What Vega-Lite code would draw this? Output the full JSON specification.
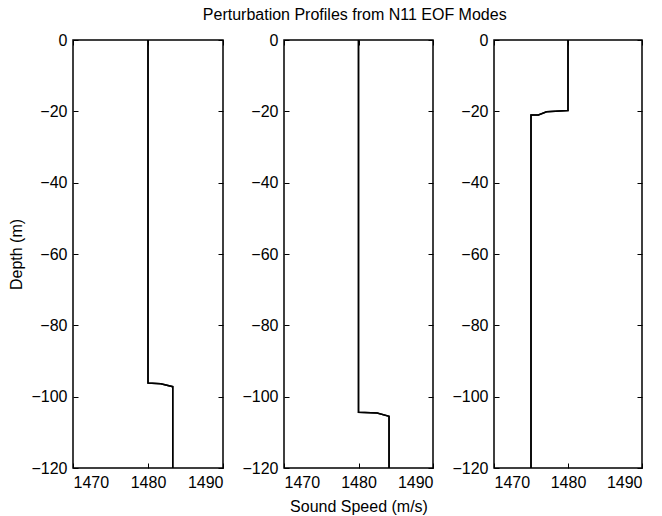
{
  "$schema": "https://vega.github.io/schema/vega-lite/v6.json",
  "background": "white",
  "padding": {"left": 8, "top": 7, "right": 5, "bottom": 2},
  "title": {"text": "Perturbation Profiles from N11 EOF Modes", "anchor": "middle", "font": "Liberation Sans", "fontSize": 16, "fontWeight": "normal", "color": "black", "dx": 29, "offset": 8},
  "config": {
    "font": "Liberation Sans",
    "view": {"stroke": "black", "strokeWidth": 1.5},
    "axis": {"grid": false, "domain": false, "tickSize": -5, "tickColor": "black", "tickWidth": 1, "labelFont": "Liberation Sans", "labelFontSize": 16, "labelColor": "black", "labelPadding": 11, "format": "d", "titleFont": "Liberation Sans", "titleFontSize": 16, "titleFontWeight": "normal", "titleColor": "black"}
  },
  "datasets": {
    "profiles": [
      {"panel": 1, "i": 1, "speed": 1480, "depth": 0},
      {"panel": 1, "i": 2, "speed": 1480, "depth": -96.2},
      {"panel": 1, "i": 3, "speed": 1481.7, "depth": -96.4},
      {"panel": 1, "i": 4, "speed": 1483.3, "depth": -97.2},
      {"panel": 1, "i": 5, "speed": 1483.3, "depth": -120},
      {"panel": 2, "i": 1, "speed": 1480, "depth": 0},
      {"panel": 2, "i": 2, "speed": 1480, "depth": -104.4},
      {"panel": 2, "i": 3, "speed": 1482.5, "depth": -104.6},
      {"panel": 2, "i": 4, "speed": 1484.1, "depth": -105.5},
      {"panel": 2, "i": 5, "speed": 1484.1, "depth": -120},
      {"panel": 3, "i": 1, "speed": 1480, "depth": 0},
      {"panel": 3, "i": 2, "speed": 1480, "depth": -19.8},
      {"panel": 3, "i": 3, "speed": 1477.1, "depth": -20.1},
      {"panel": 3, "i": 4, "speed": 1476, "depth": -21},
      {"panel": 3, "i": 5, "speed": 1475, "depth": -21},
      {"panel": 3, "i": 6, "speed": 1475, "depth": -120}
    ]
  },
  "spacing": 16,
  "hconcat": [
    {
      "width": 150, "height": 428,
      "data": {"name": "profiles"},
      "transform": [{"filter": "datum.panel === 1"}],
      "layer": [
        {
          "mark": {"type": "line", "color": "black", "strokeWidth": 1.5},
          "encoding": {
            "x": {"field": "speed", "type": "quantitative", "scale": {"domain": [1470, 1490], "nice": false, "zero": false}, "axis": {"orient": "bottom", "values": [1470, 1480, 1490], "title": null}},
            "y": {"field": "depth", "type": "quantitative", "scale": {"domain": [-120, 0], "nice": false, "zero": false}, "axis": {"orient": "left", "values": [-120, -100, -80, -60, -40, -20, 0], "title": "Depth (m)", "titlePadding": 6}},
            "order": {"field": "i", "type": "quantitative"}
          }
        },
        {
          "mark": {"type": "line", "color": "black", "strokeWidth": 1.5},
          "encoding": {
            "x": {"field": "speed", "type": "quantitative", "axis": {"orient": "top", "values": [1470, 1480, 1490], "labels": false, "title": null}},
            "y": {"field": "depth", "type": "quantitative", "axis": {"orient": "right", "values": [-120, -100, -80, -60, -40, -20, 0], "labels": false, "title": null}},
            "order": {"field": "i", "type": "quantitative"}
          }
        }
      ]
    },
    {
      "width": 149, "height": 428,
      "data": {"name": "profiles"},
      "transform": [{"filter": "datum.panel === 2"}],
      "layer": [
        {
          "mark": {"type": "line", "color": "black", "strokeWidth": 1.5},
          "encoding": {
            "x": {"field": "speed", "type": "quantitative", "scale": {"domain": [1470, 1490], "nice": false, "zero": false}, "axis": {"orient": "bottom", "values": [1470, 1480, 1490], "title": "Sound Speed (m/s)", "titlePadding": 8}},
            "y": {"field": "depth", "type": "quantitative", "scale": {"domain": [-120, 0], "nice": false, "zero": false}, "axis": {"orient": "left", "values": [-120, -100, -80, -60, -40, -20, 0], "title": null}},
            "order": {"field": "i", "type": "quantitative"}
          }
        },
        {
          "mark": {"type": "line", "color": "black", "strokeWidth": 1.5},
          "encoding": {
            "x": {"field": "speed", "type": "quantitative", "axis": {"orient": "top", "values": [1470, 1480, 1490], "labels": false, "title": null}},
            "y": {"field": "depth", "type": "quantitative", "axis": {"orient": "right", "values": [-120, -100, -80, -60, -40, -20, 0], "labels": false, "title": null}},
            "order": {"field": "i", "type": "quantitative"}
          }
        }
      ]
    },
    {
      "width": 148, "height": 428,
      "data": {"name": "profiles"},
      "transform": [{"filter": "datum.panel === 3"}],
      "layer": [
        {
          "mark": {"type": "line", "color": "black", "strokeWidth": 1.5},
          "encoding": {
            "x": {"field": "speed", "type": "quantitative", "scale": {"domain": [1470, 1490], "nice": false, "zero": false}, "axis": {"orient": "bottom", "values": [1470, 1480, 1490], "title": null}},
            "y": {"field": "depth", "type": "quantitative", "scale": {"domain": [-120, 0], "nice": false, "zero": false}, "axis": {"orient": "left", "values": [-120, -100, -80, -60, -40, -20, 0], "title": null}},
            "order": {"field": "i", "type": "quantitative"}
          }
        },
        {
          "mark": {"type": "line", "color": "black", "strokeWidth": 1.5},
          "encoding": {
            "x": {"field": "speed", "type": "quantitative", "axis": {"orient": "top", "values": [1470, 1480, 1490], "labels": false, "title": null}},
            "y": {"field": "depth", "type": "quantitative", "axis": {"orient": "right", "values": [-120, -100, -80, -60, -40, -20, 0], "labels": false, "title": null}},
            "order": {"field": "i", "type": "quantitative"}
          }
        }
      ]
    }
  ]
}
